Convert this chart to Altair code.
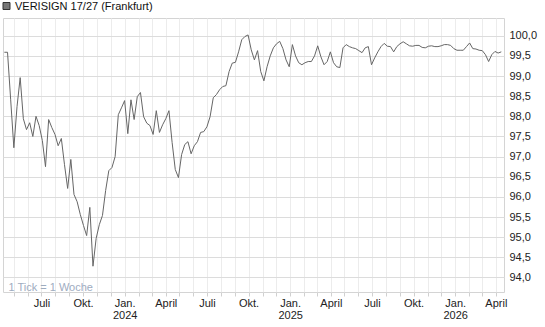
import altair as alt
import pandas as pd

title_text = "VERISIGN 17/27 (Frankfurt)"
note_text = "1 Tick = 1 Woche"
first_week = "2023-04-10"

prices = [
    99.59, 99.59, 98.41, 97.22, 98.24, 98.96, 97.94, 97.67, 97.84, 97.50,
    98.00, 97.77, 97.40, 96.75, 97.92, 97.72, 97.55, 97.27, 97.45, 96.80,
    96.21, 96.93, 96.06, 95.88, 95.56, 95.29, 95.04, 95.74, 94.28, 94.97,
    95.31, 95.54, 96.16, 96.65, 96.73, 97.00, 98.04, 98.21, 98.39, 97.57,
    98.41, 97.92, 98.49, 98.59, 97.99, 97.83, 97.77, 97.55, 98.14, 97.60,
    97.79, 97.94, 98.14, 97.35, 96.68, 96.48, 97.05, 97.30, 97.37, 97.07,
    97.27, 97.37, 97.60, 97.62, 97.74, 97.99, 98.46, 98.54, 98.66, 98.74,
    98.76, 99.11, 99.32, 99.34, 99.60, 99.90, 99.98, 100.02, 99.65, 99.40,
    99.63, 99.11, 98.88, 99.23, 99.50, 99.70, 99.80, 99.86, 99.68, 99.40,
    99.23, 99.78, 99.50, 99.33, 99.28, 99.33, 99.36, 99.36, 99.50, 99.75,
    99.48, 99.28, 99.36, 99.60, 99.33, 99.23, 99.21, 99.70, 99.78, 99.73,
    99.70, 99.68, 99.63, 99.58, 99.70, 99.73, 99.28, 99.45, 99.60, 99.73,
    99.81, 99.74, 99.73, 99.60, 99.73, 99.80, 99.85, 99.80, 99.75, 99.74,
    99.76, 99.76, 99.71, 99.70, 99.74, 99.75, 99.73, 99.73, 99.75, 99.78,
    99.78, 99.76, 99.68, 99.64, 99.64, 99.64, 99.73, 99.82, 99.68, 99.67,
    99.64, 99.63, 99.53, 99.36, 99.53, 99.61, 99.57, 99.60,
]

y_ticks = [94.0, 94.5, 95.0, 95.5, 96.0, 96.5, 97.0, 97.5, 98.0, 98.5, 99.0, 99.5, 100.0]

dates = pd.date_range(first_week, periods=len(prices), freq="7D")
df = pd.DataFrame({"date": dates.strftime("%Y-%m-%d"), "price": prices})

FONT = "Liberation Sans"

x_label_expr = (
    "utcmonth(datum.value) == 6 ? 'Juli' : "
    "utcmonth(datum.value) == 9 ? 'Okt.' : "
    "utcmonth(datum.value) == 0 ? ['Jan.', '' + utcyear(datum.value)] : "
    "utcmonth(datum.value) == 3 ? 'April' : ''"
)

line = alt.Chart(df).mark_line(color="#666666", strokeWidth=1).encode(
    x=alt.X(
        "date:T",
        scale=alt.Scale(
            type="utc",
            domain=[
                alt.DateTime(year=2023, month=4, date=7, utc=True),
                alt.DateTime(year=2026, month=4, date=19, utc=True),
            ],
        ),
        axis=alt.Axis(
            title=None,
            grid=True,
            gridColor="#ececec",
            tickCount=alt.TimeIntervalStep(interval="month", step=1),
            labelExpr=x_label_expr,
            labelOverlap=False,
            labelFlush=False,
            labelFont=FONT,
            labelFontSize=11,
            labelColor="#222222",
            labelLineHeight=12,
            labelPadding=1,
            tickColor="#d0d0d0",
            tickSize=4,
            domain=False,
        ),
    ),
    y=alt.Y(
        "price:Q",
        scale=alt.Scale(domain=[93.64, 100.44], nice=False, zero=False),
        axis=alt.Axis(
            title=None,
            orient="right",
            values=y_ticks,
            grid=True,
            gridColor="#dcdcdc",
            ticks=False,
            domain=False,
            labelPadding=5,
            labelFont=FONT,
            labelFontSize=11,
            labelColor="#222222",
            labelExpr="replace(format(datum.value, '.1f'), '.', ',')",
        ),
    ),
)

square = alt.Chart(pd.DataFrame({"k": [0]})).mark_square(
    size=49, color="#777777", stroke="#333333", strokeWidth=1, opacity=1, filled=True
).encode(x=alt.value(3.5), y=alt.value(-12))

title = alt.Chart(pd.DataFrame({"t": [title_text]})).mark_text(
    align="left", baseline="alphabetic", font=FONT, fontSize=11, color="#111111"
).encode(text="t:N", x=alt.value(12), y=alt.value(-8.5))

note = alt.Chart(pd.DataFrame({"t": [note_text]})).mark_text(
    align="left", baseline="alphabetic", font=FONT, fontSize=11, color="#9eacbf"
).encode(text="t:N", x=alt.value(5.5), y=alt.value(272.5))

chart = alt.layer(line, square, title, note).properties(
    width=501,
    height=274,
    autosize=alt.AutoSizeParams(type="none"),
    padding={"left": 3, "top": 18, "right": 41, "bottom": 35},
).configure_view(stroke="#d4d4d4", strokeWidth=1)

chart.save("out.html", embed_options={"renderer": "svg", "actions": False})
